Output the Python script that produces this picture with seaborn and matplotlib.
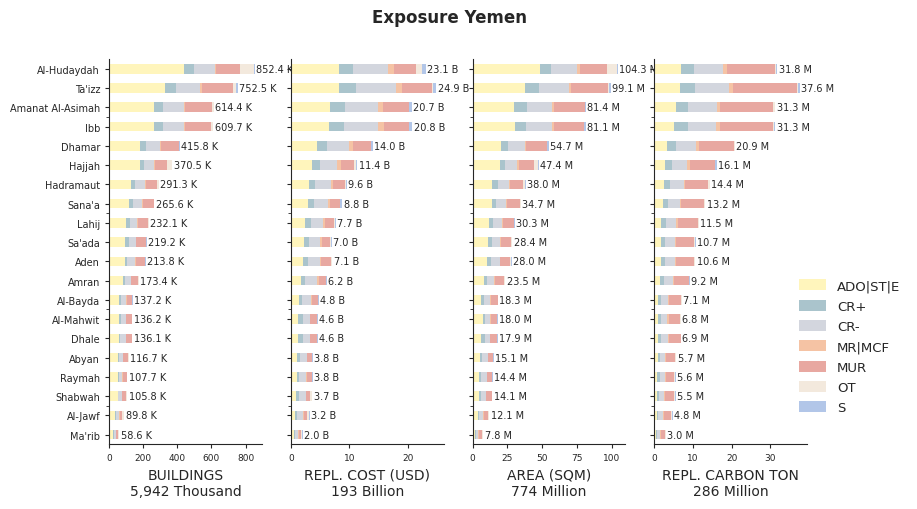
import pandas as pd
import seaborn as sns
import matplotlib.pyplot as plt
from matplotlib.patches import Patch
from matplotlib.ticker import MultipleLocator

regions = ["Al-Hudaydah", "Ta'izz", "Amanat Al-Asimah", "Ibb", "Dhamar", "Hajjah",
           "Hadramaut", "Sana'a", "Lahij", "Sa'ada", "Aden", "Amran", "Al-Bayda",
           "Al-Mahwit", "Dhale", "Abyan", "Raymah", "Shabwah", "Al-Jawf", "Ma'rib"]

classes = ["ADO|ST|E", "CR+", "CR-", "MR|MCF", "MUR", "OT", "S"]
colors = ["#fff5bc", "#aac4cc", "#d3d6de", "#f5c3a4", "#e8a8a1", "#f3e9dd", "#b2c6e8"]

# rows follow `regions`, columns follow `classes`
buildings = [  # thousand
    [438.4, 59, 126, 4, 142, 79, 4],
    [328.5, 65, 142, 6, 187, 16, 8],
    [262.4, 55, 124, 2, 160, 10, 1],
    [263.7, 55, 120, 4, 154, 12, 1],
    [179.8, 35, 83, 6, 106, 2, 4],
    [181.5, 24, 59, 6, 71, 28, 1],
    [127.3, 24, 59, 3, 67, 10, 1],
    [118.6, 22, 55, 2, 65, 2, 1],
    [96.1, 26, 43, 3, 59, 4, 1],
    [94.2, 20, 43, 3, 55, 3, 1],
    [90.8, 16, 43, 6, 53, 4, 1],
    [80.4, 12, 35, 3, 41, 1, 1],
    [57.2, 10, 32, 3, 32, 2, 1],
    [56.2, 11, 32, 2, 32, 2, 1],
    [56.1, 9, 31, 3, 33, 3, 1],
    [52.7, 6, 22, 3, 26, 6, 1],
    [50.7, 10, 16, 2, 26, 2, 1],
    [50.8, 4, 20, 2, 22, 6, 1],
    [36.8, 6, 18, 2, 14, 12, 1],
    [24.6, 4, 10, 1, 14, 4, 1],
]

repl_cost = [  # billion USD
    [8.2, 2.5, 6.0, 1.0, 3.8, 1.0, 0.6],
    [8.2, 3.0, 6.8, 1.0, 5.2, 0.2, 0.5],
    [6.65, 2.6, 5.7, 0.9, 4.3, 0.05, 0.5],
    [6.5, 2.6, 5.9, 0.9, 4.3, 0.1, 0.5],
    [4.45, 1.75, 3.8, 0.7, 2.95, 0.05, 0.3],
    [3.6, 1.4, 2.95, 0.7, 2.1, 0.35, 0.3],
    [3.1, 1.05, 2.8, 0.35, 1.95, 0.2, 0.15],
    [2.9, 1.05, 2.4, 0.35, 1.75, 0.05, 0.3],
    [2.4, 1.05, 2.1, 0.35, 1.55, 0.15, 0.1],
    [2.2, 0.9, 1.9, 0.35, 1.4, 0.15, 0.1],
    [2.15, 0.85, 2.05, 0.2, 1.65, 0.1, 0.1],
    [1.8, 0.7, 1.95, 0.3, 1.2, 0.1, 0.15],
    [1.45, 0.5, 1.45, 0.2, 1.05, 0.05, 0.1],
    [1.3, 0.7, 1.2, 0.15, 1.15, 0.05, 0.05],
    [1.3, 0.7, 1.2, 0.15, 1.05, 0.1, 0.1],
    [1.05, 0.55, 1.15, 0.1, 0.7, 0.1, 0.15],
    [1.05, 0.35, 1.15, 0.25, 0.8, 0.1, 0.1],
    [0.9, 0.5, 1.15, 0.1, 0.7, 0.2, 0.15],
    [0.7, 0.35, 0.95, 0.3, 0.55, 0.2, 0.15],
    [0.5, 0.2, 0.55, 0.2, 0.35, 0.1, 0.1],
]

area = [  # million sqm
    [48.3, 8.0, 18.3, 2.2, 19.7, 7.1, 0.7],
    [37.3, 10.2, 21.4, 1.9, 26.3, 1.0, 1.0],
    [29.9, 8.8, 18.3, 1.5, 21.9, 0.3, 0.7],
    [30.4, 8.0, 18.3, 1.5, 21.4, 0.3, 1.2],
    [20.4, 5.1, 12.4, 0.7, 14.6, 0.3, 1.2],
    [19.6, 3.7, 8.8, 1.5, 10.2, 2.9, 0.7],
    [14.3, 3.7, 8.0, 0.7, 9.5, 1.5, 0.3],
    [13.7, 2.9, 7.3, 0.7, 9.5, 0.3, 0.3],
    [11.5, 2.9, 6.6, 0.7, 8.0, 0.3, 0.3],
    [10.9, 2.9, 5.8, 0.7, 7.3, 0.5, 0.3],
    [10.1, 2.9, 6.6, 0.3, 7.3, 0.5, 0.3],
    [8.3, 2.2, 5.1, 0.7, 6.6, 0.2, 0.4],
    [6.3, 2.2, 3.7, 0.7, 5.1, 0.2, 0.1],
    [7.5, 1.5, 3.7, 0.5, 4.4, 0.2, 0.2],
    [6.4, 2.2, 3.7, 0.5, 4.6, 0.3, 0.2],
    [5.6, 1.5, 3.7, 0.3, 3.7, 0.2, 0.1],
    [4.9, 1.5, 3.7, 0.3, 3.7, 0.2, 0.1],
    [4.9, 1.5, 2.9, 0.5, 3.9, 0.2, 0.2],
    [4.0, 0.7, 2.9, 0.5, 2.9, 1.0, 0.1],
    [1.9, 0.7, 1.5, 0.7, 1.9, 0.9, 0.2],
]

carbon = [  # million ton
    [6.8, 3.4, 7.6, 1.0, 12.3, 0.3, 0.4],
    [6.6, 3.9, 8.9, 1.0, 16.45, 0.35, 0.4],
    [5.5, 3.1, 7.6, 0.8, 13.8, 0.4, 0.1],
    [5.2, 3.4, 7.3, 1.0, 13.7, 0.3, 0.4],
    [3.4, 2.3, 5.0, 0.8, 9.1, 0.25, 0.05],
    [2.9, 1.8, 3.7, 0.8, 6.5, 0.1, 0.3],
    [2.5, 1.6, 3.5, 0.4, 6.0, 0.35, 0.05],
    [2.2, 1.3, 3.2, 0.1, 6.1, 0.1, 0.2],
    [1.8, 1.3, 2.6, 0.5, 5.0, 0.25, 0.05],
    [1.8, 1.0, 2.6, 0.3, 4.7, 0.2, 0.1],
    [1.8, 1.0, 2.6, 0.3, 4.7, 0.1, 0.1],
    [1.6, 0.8, 2.4, 0.2, 3.9, 0.2, 0.1],
    [1.0, 0.8, 1.8, 0.3, 3.1, 0.05, 0.05],
    [1.0, 0.8, 1.6, 0.3, 3.05, 0.05, 0.0],
    [1.0, 0.8, 1.7, 0.3, 3.0, 0.05, 0.05],
    [1.0, 0.5, 1.3, 0.3, 2.35, 0.2, 0.05],
    [0.8, 0.8, 1.3, 0.2, 2.1, 0.1, 0.3],
    [0.8, 0.5, 1.3, 0.2, 2.35, 0.3, 0.05],
    [0.8, 0.2, 1.3, 0.3, 1.6, 0.45, 0.15],
    [0.5, 0.3, 0.8, 0.2, 1.1, 0.05, 0.05],
]

panels = [
    ("BUILDINGS\n5,942 Thousand", "K", buildings),
    ("REPL. COST (USD)\n193 Billion", "B", repl_cost),
    ("AREA (SQM)\n774 Million", "M", area),
    ("REPL. CARBON TON\n286 Million", "M", carbon),
]

sns.set_style("ticks")
fig, axes = plt.subplots(1, 4, figsize=(9.17, 5.1), sharey=True)
fig.subplots_adjust(left=0.119, right=0.880, top=0.882, bottom=0.127, wspace=0.19)

for ax, (xlabel, unit, rows) in zip(axes, panels):
    df = pd.DataFrame(rows, index=regions, columns=classes)
    cum = df.cumsum(axis=1)
    cum.index.name = "region"
    cum = cum.reset_index()
    # draw cumulative layers back to front so each segment shows
    for cls, col in reversed(list(zip(classes, colors))):
        sns.barplot(data=cum, x=cls, y="region", order=regions, color=col,
                    width=0.5, saturation=1, ax=ax, orient="h",
                    linewidth=0, edgecolor="none")
    totals = df.sum(axis=1).round(2)
    ax.bar_label(ax.containers[0], labels=[f"{v:.1f} {unit}" for v in totals],
                 padding=1, fontsize=7, color=".15",
                 bbox=dict(facecolor="white", edgecolor="none", alpha=0.6, pad=0.3))
    ax.set_xlabel(xlabel, fontsize=10)
    ax.set_ylabel("")
    ax.tick_params(axis="x", labelsize=6.5, length=3)
    ax.tick_params(axis="y", labelsize=7, length=3)
    ax.yaxis.set_minor_locator(MultipleLocator(5, offset=2.5))
    ax.tick_params(axis="y", which="minor", length=2)

sns.despine(fig=fig)

handles = [Patch(facecolor=c, edgecolor="none", label=l) for l, c in zip(classes, colors)]
fig.legend(handles=handles, loc="center left", bbox_to_anchor=(0.858, 0.318),
           frameon=False, fontsize=9.5, handlelength=2.1, handleheight=0.9,
           labelspacing=0.55)

fig.suptitle("Exposure Yemen", fontweight="bold", fontsize=12, x=0.49, y=0.982)

fig.savefig("out.png", dpi=100)
